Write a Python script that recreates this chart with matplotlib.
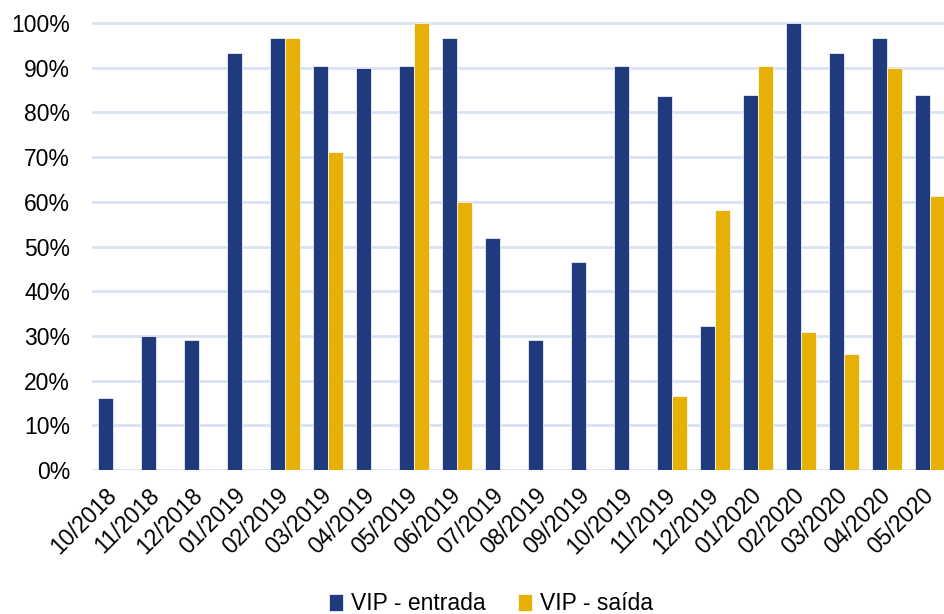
import matplotlib
matplotlib.use("Agg")
import matplotlib.pyplot as plt
import numpy as np
from matplotlib.ticker import PercentFormatter

categories = ["10/2018", "11/2018", "12/2018", "01/2019", "02/2019", "03/2019", "04/2019",
              "05/2019", "06/2019", "07/2019", "08/2019", "09/2019", "10/2019", "11/2019",
              "12/2019", "01/2020", "02/2020", "03/2020", "04/2020", "05/2020"]
entrada = [16.2, 30.0, 29.1, 93.4, 96.6, 90.3, 89.9, 90.3, 96.6, 51.9,
           29.1, 46.5, 90.3, 83.6, 32.3, 84.0, 100.0, 93.4, 96.6, 84.0]
saida = [0, 0, 0, 0, 96.6, 71.1, 0, 100.0, 60.0, 0,
         0, 0, 0, 16.6, 58.2, 90.3, 30.9, 26.0, 89.9, 61.3]
series_names = ["VIP - entrada", "VIP - saída"]

plt.rcParams['font.family'] = ['Liberation Sans', 'DejaVu Sans']

W, H = 944, 614
fig = plt.figure(figsize=(W / 100, H / 100), dpi=100)
left_px, right_px = 91.5, 944
bottom_px, top_px = 470, 20
ax = fig.add_axes([left_px / W, (H - bottom_px) / H, (right_px - left_px) / W, (bottom_px - top_px) / H])

x = np.arange(len(categories))
bw = 0.35
c_blue = "#1F3A7D"
c_gold = "#E6B007"
ax.bar(x - bw / 2, entrada, bw, color=c_blue, label=series_names[0], zorder=3,
       edgecolor="white", linewidth=0.5)
ax.bar(x + bw / 2, saida, bw, color=c_gold, label=series_names[1], zorder=3,
       edgecolor="white", linewidth=0.5)

cat_px = 43.0
ax.set_xlim(-0.5, -0.5 + (right_px - left_px) / cat_px)
ax.set_ylim(0, 100 * (bottom_px - top_px) / (bottom_px - 23))
ax.set_yticks(np.arange(0, 101, 10))
ax.yaxis.set_major_formatter(PercentFormatter(decimals=0))
ax.grid(axis='y', color="#D9E1F2", linewidth=2, zorder=0)
ax.set_axisbelow(True)
for s in ax.spines.values():
    s.set_visible(False)
ax.tick_params(axis='both', length=0, labelsize=16.5, colors="black")
ax.tick_params(axis='y', pad=15.5)
ax.set_xticks(x)
ax.set_xticklabels(categories, rotation=45, ha='right', va='center', rotation_mode='anchor')
ax.tick_params(axis='x', pad=16)

leg = fig.legend(loc='center', bbox_to_anchor=(491 / W, (H - 604) / H), ncol=2, frameon=False,
                 fontsize=16.5, handlelength=0.6, handleheight=0.75, handletextpad=0.35,
                 columnspacing=1.4)

fig.savefig("out.png", dpi=100)
